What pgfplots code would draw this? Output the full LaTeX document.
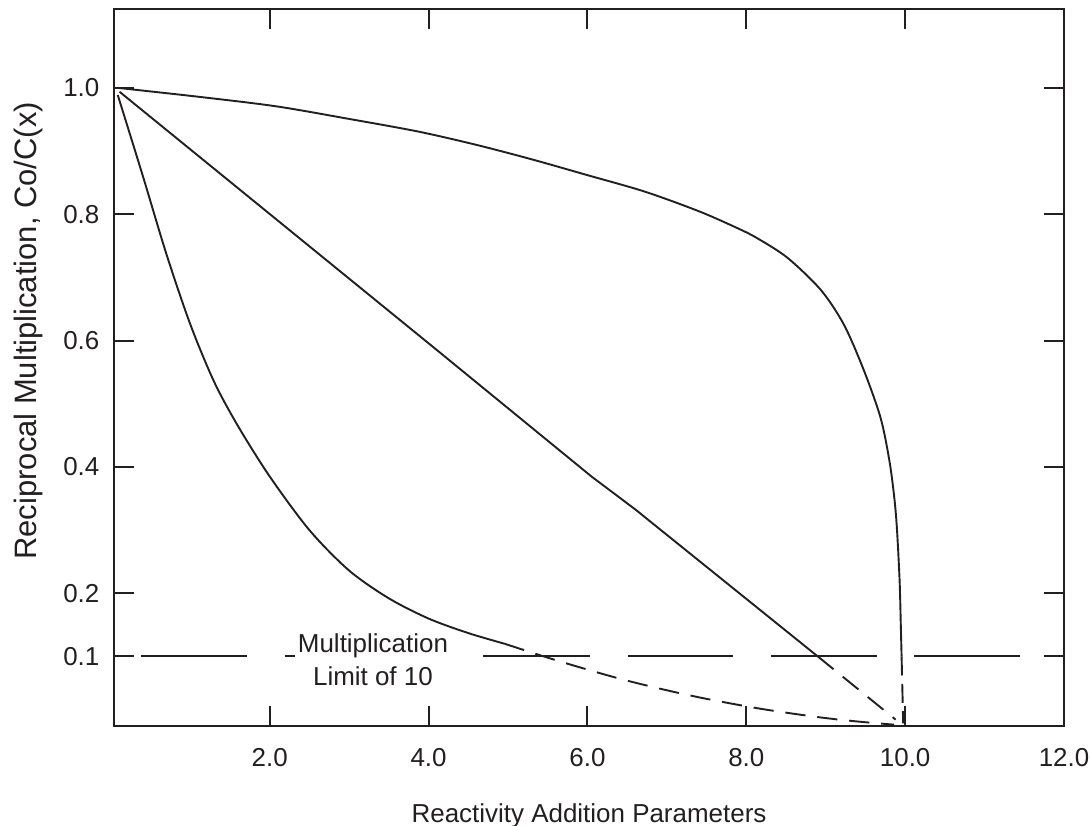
\documentclass[border=0pt]{standalone}
\usepackage{fontspec}
\setmainfont{Liberation Sans}
\usepackage{pgfplots}
\pgfplotsset{compat=1.18}
\definecolor{ink}{RGB}{35,31,32}

\begin{document}
\fontsize{10.9}{13}\selectfont
\begin{tikzpicture}
\begin{axis}[
  scale only axis,
  width=399pt, height=301pt,
  xmin=0.04, xmax=12,
  ymin=-0.0097, ymax=1.125,
  axis line style={ink, line width=0.8pt},
  tick style={ink, line width=0.8pt},
  major tick length=8.3pt,
  tick align=inside,
  xtick={2,4,6,8,10,12},
  xticklabels={2.0,4.0,6.0,8.0,10.0,12.0},
  ytick={0.1,0.2,0.4,0.6,0.8,1.0},
  yticklabels={0.1,0.2,0.4,0.6,0.8,1.0},
  xticklabel style={yshift=-5.7pt, text=ink},
  yticklabel style={xshift=-2.3pt, text=ink},
  xlabel={Reactivity Addition Parameters},
  ylabel={Reciprocal Multiplication, Co/C(x)},
  xlabel style={at={(axis description cs:0.5,-0.0954)}, anchor=north, text=ink},
  ylabel style={at={(axis description cs:-0.115,0.551)}, anchor=north, text=ink,
    font=\fontsize{13}{15}\selectfont},
  unbounded coords=jump,
]

% top curve
\addplot[ink, line width=0.8pt, smooth, tension=0.5] coordinates {
  (0.10,1.000) (1.11,0.986) (2.08,0.971) (3.00,0.951) (3.87,0.931)
  (4.60,0.910) (5.30,0.887) (6.00,0.862) (6.72,0.836) (7.40,0.805)
  (7.89,0.778) (8.14,0.762) (8.52,0.731) (8.94,0.680) (9.23,0.625)
  (9.48,0.553) (9.69,0.478) (9.80,0.411) (9.86,0.355) (9.895,0.305)
  (9.93,0.220) (9.945,0.150) (9.955,0.100)
};
\addplot[ink, line width=0.8pt, dash pattern=on 8pt off 3.5pt] coordinates {(9.955,0.100) (9.975,-0.006)};

% middle curve
\addplot[ink, line width=0.8pt] coordinates {
  (0.11,0.994) (4.125,0.583) (6.05,0.385) (6.60,0.333) (8.90,0.100)
};
\addplot[ink, line width=0.8pt, dash pattern=on 8.5pt off 5pt] coordinates {(8.90,0.100) (9.88,0.000)};

% bottom curve
\addplot[ink, line width=0.8pt, smooth, tension=0.5] coordinates {
  (0.087,0.989) (0.40,0.862) (0.70,0.737) (1.00,0.626) (1.30,0.535)
  (1.60,0.465) (2.00,0.385) (2.50,0.300) (3.00,0.236) (3.50,0.192)
  (4.00,0.160) (4.50,0.137) (4.96,0.120)
};
\addplot[ink, line width=0.8pt, smooth, dash pattern=on 8.5pt off 5pt] coordinates {
  (4.96,0.120) (5.63,0.093) (6.46,0.063) (7.30,0.038) (8.14,0.018)
  (8.90,0.004) (9.40,-0.003) (9.86,-0.008)
};

% multiplication limit line
\addplot[ink, line width=0.85pt] coordinates {
  (0.384,0.1) (1.715,0.1) (1.9,nan)
  (2.192,0.1) (2.318,0.1) (3.0,nan)
  (4.690,0.1) (6.033,0.1) (6.2,nan)
  (6.510,0.1) (7.828,0.1) (8.0,nan)
  (8.305,0.1) (9.648,0.1) (9.8,nan)
  (10.112,0.1) (11.443,0.1)
};

\node[ink, align=center, anchor=north, inner sep=0pt,
  font=\fontsize{10.9}{14}\selectfont] at (axis cs:3.30,0.1375)
  {Multiplication\\Limit of 10};

\coordinate (bbsw) at (rel axis cs:-0.12,-0.1395);
\coordinate (bbne) at (rel axis cs:1.0284,1.0126);
\end{axis}
\pgfresetboundingbox
\useasboundingbox (bbsw) rectangle (bbne);
\end{tikzpicture}
\end{document}
